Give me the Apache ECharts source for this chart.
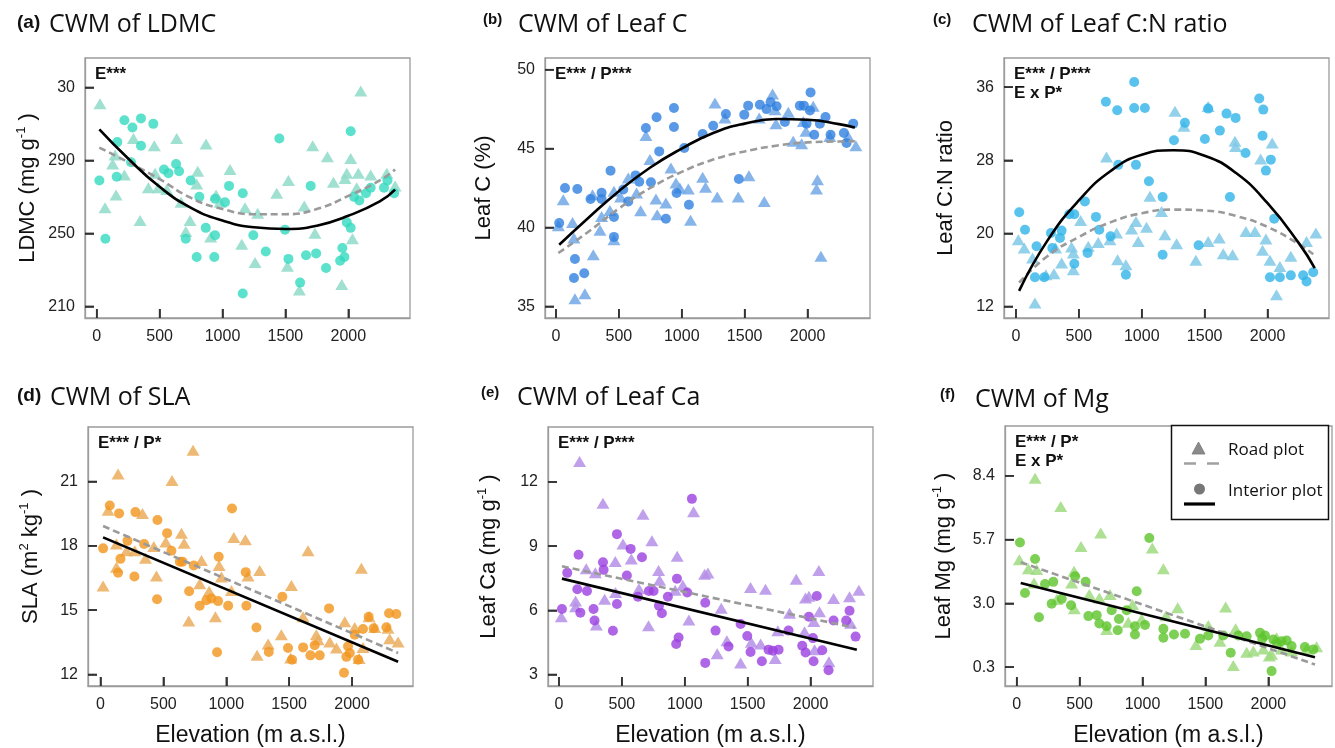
<!DOCTYPE html>
<html><head><meta charset="utf-8">
<script src="https://cdn.jsdelivr.net/npm/echarts@6/dist/echarts.min.js"></script>
<style>html,body{margin:0;padding:0;background:#fff}#c{width:1335px;height:748px}</style>
</head><body><div id="c"></div>
<script>
// ---------- shared ----------
const elevationTicks = [0, 500, 1000, 1500, 2000];

// ---------- (a) LDMC ----------
const ldmcTicks = [210, 250, 290, 330];
const ldmcTickLabels = ['210', '250', '290', '30'];
const ldmcRoad = [[26,321],[66,264],[146,293],[127,288],[154,271],[220,282],[292,302],[345,257],[411,275],[458,298],[464,283],[490,275],[557,274],[636,302],[671,267],[708,251],[742,257],[803,284],[795,277],[869,299],[906,248],[949,271],[980,267],[1060,285],[1153,244],[1179,264],[1259,234],[1280,261],[1431,272],[1524,279],[1516,232],[1611,219],[1650,265],[1717,298],[1735,250],[1834,292],[1882,278],[1948,222],[1974,280],[1988,283],[2019,291],[2033,247],[2080,283],[2067,275],[2099,328],[2178,282],[2306,283],[2372,276]];
const ldmcInterior = [[21,279],[69,247],[159,281],[164,300],[220,312],[284,308],[352,313],[352,298],[273,289],[450,310],[535,285],[570,283],[631,288],[655,284],[747,279],[816,270],[708,247],[795,237],[867,253],[941,269],[941,249],[935,237],[1020,267],[1052,276],[1161,272],[1245,249],[1161,217],[1344,240],[1452,302],[1497,252],[1524,236],[1617,223],[1664,238],[1701,276],[1744,239],[1823,231],[1935,235],[1969,237],[1953,242],[1988,256],[2019,253],[2019,306],[2046,270],[2088,268],[2141,272],[2178,275],[2284,275],[2311,279],[2364,272]];
const ldmcFitRoad = [[21,297],[250,289],[500,279.7],[750,269.4],[1000,263.3],[1250,260.5],[1500,260.5],[1750,263.3],[2000,270.5],[2250,279],[2372,285]];
const ldmcFitInterior = [[21,307],[250,291],[500,275.5],[750,264],[1000,257],[1250,253.3],[1500,252.4],[1750,254.2],[2000,259.6],[2250,267.5],[2372,274]];

// ---------- (b) Leaf C ----------
const leafCTicks = [35, 40, 45, 50];
const leafCTickLabels = ['35', '40', '45', '50'];
const leafCRoad = [[19,40.11],[58,41.76],[132,40.32],[143,39.33],[151,35.48],[230,35.8],[297,38.27],[291,42.08],[350,39.82],[363,40.7],[429,41.08],[461,42.29],[461,39.22],[514,41.93],[575,43.13],[641,42.18],[673,41.06],[715,45.82],[747,44.3],[795,41.8],[805,40.8],[874,41.55],[914,43.77],[954,42.82],[985,42.5],[1052,42.44],[1070,40.45],[1166,43.18],[1189,42.54],[1264,47.89],[1282,41.93],[1343,46.94],[1449,41.93],[1534,43.28],[1616,46.94],[1656,41.65],[1722,48.46],[1741,47.46],[1749,46.58],[1847,47.3],[1886,45.46],[1953,45.31],[1966,46.72],[1987,46.09],[2045,47.68],[2079,43.03],[2071,42.44],[2106,38.17],[2177,45.77],[2323,45.77],[2384,45.18]];
const leafCInterior = [[26,40.28],[72,42.5],[170,42.44],[151,38.0],[143,36.8],[225,37.1],[275,41.8],[363,42.2],[363,41.8],[434,43.6],[461,40.66],[461,39.4],[535,42.4],[575,41.65],[633,43.3],[662,42.9],[715,46.3],[755,42.86],[800,46.98],[821,44.82],[874,40.55],[938,47.57],[938,46.37],[959,42.18],[1020,45.03],[1057,41.44],[1166,45.92],[1250,46.45],[1351,47.19],[1454,43.07],[1497,47.15],[1528,47.72],[1621,47.78],[1674,47.5],[1706,47.93],[1754,47.68],[1820,46.68],[1939,47.72],[1971,47.72],[1992,46.58],[2024,48.56],[2019,47.42],[2053,45.88],[2098,46.58],[2143,47.0],[2183,45.88],[2289,45.99],[2310,45.35],[2363,46.58]];
const leafCFitRoad = [[19,38.38],[250,39.68],[500,41.2],[750,42.5],[1000,43.52],[1250,44.3],[1500,44.82],[1750,45.18],[2000,45.39],[2250,45.45],[2376,45.46]];
const leafCFitInterior = [[26,38.9],[250,40.55],[500,42.3],[750,43.8],[1000,45.0],[1250,45.99],[1500,46.58],[1750,46.87],[2000,46.83],[2250,46.55],[2376,46.34]];

// ---------- (c) Leaf C:N ----------
const cnTicks = [12, 20, 28, 36];
const cnTickLabels = ['12', '20', '28', '36'];
const cnRoad = [[19,19.3],[66,18.4],[132,17.3],[151,12.36],[238,15.47],[302,15.58],[315,18.4],[363,16.75],[442,18.5],[456,16.0],[456,17.84],[514,21.4],[575,18.58],[654,19.0],[720,28.37],[747,19.3],[800,20.04],[808,17.1],[874,16.57],[919,20.48],[954,21.3],[972,19.1],[1038,20.66],[1065,24.05],[1157,22.4],[1184,19.85],[1264,33.37],[1277,18.87],[1335,31.73],[1430,17.04],[1528,33.9],[1528,19.1],[1616,19.49],[1648,17.77],[1722,17.66],[1741,30.08],[1746,29.5],[1828,20.2],[1900,20.2],[1945,28.15],[1960,18.14],[1987,19.38],[2019,17.04],[2037,29.9],[2071,13.28],[2098,16.38],[2185,17.48],[2310,19.1],[2384,20.04]];
const cnInterior = [[26,22.3],[72,20.4],[164,18.58],[151,15.2],[225,15.2],[278,20.04],[289,18.4],[350,19.5],[363,20.3],[424,22.1],[464,22.1],[464,16.68],[548,23.5],[570,17.84],[636,21.8],[662,20.4],[715,34.4],[752,19.67],[805,33.48],[813,27.5],[874,15.47],[940,36.58],[940,33.73],[954,27.5],[1025,33.73],[1057,25.7],[1166,23.98],[1166,17.66],[1256,30.19],[1343,32.1],[1452,18.7],[1502,30.34],[1528,33.66],[1621,31.25],[1674,33.11],[1701,23.98],[1746,32.64],[1825,28.8],[1934,34.76],[1966,33.55],[1960,30.7],[1987,26.87],[2026,28.07],[2053,21.6],[2019,15.2],[2098,15.2],[2185,15.4],[2283,15.4],[2310,14.74],[2363,15.73]];
const cnFitRoad = [[25,14.6],[250,17.5],[500,19.6],[750,21.2],[1000,22.2],[1250,22.6],[1500,22.5],[1750,21.9],[2000,20.7],[2250,18.8],[2363,17.7]];
const cnFitInterior = [[25,13.7],[250,19.2],[500,23.6],[750,26.8],[1000,28.6],[1250,29.1],[1500,28.5],[1750,26.6],[2000,23.3],[2250,18.9],[2375,16.2]];

// ---------- (d) SLA ----------
const slaTicks = [12, 15, 18, 21];
const slaTickLabels = ['12', '15', '18', '21'];
const slaRoad = [[21,16.12],[61,19.66],[140,21.35],[127,18.08],[127,17.0],[207,17.77],[273,17.77],[334,19.51],[358,17.42],[424,17.97],[445,16.59],[519,18.18],[569,21.05],[644,18.59],[665,18.12],[702,14.49],[736,22.46],[803,17.31],[789,16.23],[864,15.88],[914,14.69],[943,17.08],[962,16.54],[1041,15.92],[1060,18.39],[1152,18.28],[1173,16.59],[1266,16.85],[1245,12.89],[1333,13.42],[1438,13.85],[1518,16.15],[1512,12.77],[1611,14.69],[1650,17.77],[1716,13.85],[1730,13.62],[1823,13.51],[1876,13.23],[1942,14.46],[2021,14.19],[2074,16.95],[2056,12.74],[2087,13.26],[2135,14.69],[2180,14.19],[2286,14.15],[2299,13.66],[2366,13.51]];
const slaInterior = [[21,17.88],[74,19.88],[148,19.51],[159,17.39],[140,16.74],[215,18.23],[270,16.57],[278,19.57],[347,18.08],[453,19.2],[450,15.51],[530,18.59],[564,17.77],[631,17.26],[652,17.26],[705,15.88],[742,17.08],[789,15.2],[842,15.46],[882,15.54],[935,15.42],[940,17.49],[927,13.03],[1015,15.2],[1046,19.74],[1155,16.77],[1160,15.2],[1240,14.19],[1338,13.05],[1446,15.62],[1491,13.23],[1523,12.69],[1611,13.26],[1669,12.89],[1703,13.36],[1743,12.89],[1817,15.08],[1936,12.08],[1955,12.82],[1968,13.31],[1982,13.0],[2021,13.85],[2048,12.69],[2087,14.12],[2132,14.69],[2172,14.15],[2273,14.2],[2294,14.85],[2352,14.82]];
const slaFitRoad = [[21,18.92],[2366,13.0]];
const slaFitInterior = [[21,18.39],[2366,12.59]];

// ---------- (e) Leaf Ca ----------
const caTicks = [3, 6, 9, 12];
const caTickLabels = ['3', '6', '9', '12'];
const caRoad = [[19,5.7],[132,6.16],[132,6.43],[164,12.96],[217,7.94],[289,7.75],[297,5.31],[350,11.0],[363,6.52],[448,8.28],[450,6.83],[509,9.1],[575,8.4],[668,10.49],[636,7.01],[712,5.28],[739,9.25],[792,7.86],[800,7.4],[940,8.53],[924,6.94],[985,7.17],[1033,5.55],[1070,10.61],[1158,7.68],[1184,7.74],[1258,3.97],[1290,6.09],[1335,4.57],[1444,3.54],[1523,7.06],[1529,4.51],[1603,4.42],[1642,6.98],[1719,3.74],[1740,5.04],[1833,5.86],[1886,7.45],[1952,5.0],[1960,6.58],[1987,6.66],[2026,5.47],[2032,4.16],[2066,7.86],[2071,5.93],[2146,3.59],[2183,6.55],[2310,6.63],[2318,5.39],[2384,6.94]];
const caInterior = [[24,6.06],[66,7.75],[156,8.6],[146,6.98],[170,5.89],[223,6.9],[275,6.06],[283,5.52],[350,8.25],[355,7.89],[429,5.04],[461,9.56],[461,6.29],[540,7.63],[570,8.87],[628,6.63],[660,8.48],[715,6.9],[752,6.9],[795,6.21],[818,5.86],[866,6.63],[938,7.48],[932,4.42],[951,4.73],[1020,6.83],[1057,11.21],[1163,6.35],[1163,3.54],[1245,5.05],[1348,4.31],[1444,5.36],[1497,4.8],[1523,4.05],[1613,3.62],[1666,4.16],[1700,4.11],[1746,4.16],[1825,5.05],[1934,4.34],[1960,4.03],[1987,5.7],[2019,4.7],[2024,3.62],[2050,6.67],[2093,4.13],[2143,3.2],[2183,5.52],[2283,5.52],[2310,5.98],[2358,4.77]];
const caFitRoad = [[24,8.06],[2350,5.19]];
const caFitInterior = [[24,7.48],[2368,4.16]];

// ---------- (f) Leaf Mg ----------
const mgTicks = [0.3, 3.0, 5.7, 8.4];
const mgTickLabels = ['0.3', '3.0', '5.7', '8.4'];
const mgRoad = [[21,4.85],[93,4.46],[146,8.3],[138,3.86],[159,4.43],[318,3.16],[350,7.1],[456,4.36],[458,2.77],[437,3.86],[511,5.41],[577,3.37],[668,5.98],[657,3.23],[742,3.37],[715,1.89],[887,2.2],[921,2.95],[993,2.34],[1078,5.34],[1166,4.46],[1187,2.48],[1280,2.81],[1425,1.26],[1523,2.06],[1616,1.4],[1661,2.85],[1722,0.37],[1740,1.92],[1828,0.93],[1881,0.98],[1960,1.07],[2008,0.77],[2026,0.84],[2066,1.54],[2106,1.07],[2185,0.98],[2304,1.07],[2384,1.16]];
const mgInterior = [[26,5.58],[66,3.44],[146,4.88],[177,2.41],[225,3.82],[291,3.91],[278,2.98],[358,3.19],[432,2.92],[464,4.15],[548,3.91],[570,2.46],[636,2.5],[657,2.15],[715,2.03],[755,2.71],[803,1.86],[813,2.34],[874,2.71],[940,2.03],[940,1.68],[954,3.51],[1020,2.08],[1054,5.77],[1166,1.92],[1166,1.54],[1250,1.68],[1338,1.71],[1457,1.5],[1523,1.64],[1642,1.64],[1701,0.91],[1762,1.64],[1828,1.61],[1934,1.75],[1952,1.5],[1974,1.64],[2026,0.13],[2040,1.47],[2071,1.3],[2106,1.4],[2146,1.43],[2185,1.19],[2291,1.15],[2358,1.05]];
const mgFitRoad = [[32,4.74],[2371,0.41]];
const mgFitInterior = [[32,3.86],[2371,0.72]];

// ---------- panel configuration (layout / style) ----------
const PX_PER_M = 62.9 / 500;
const panels = [
  {lab:'(a)', big:true, title:'CWM of LDMC', labX:17, titX:49, titY:12,
   grid:{left:85, top:58, width:325, height:260}, xMin:-93, yMin:203.6, yMax:346.1,
   ticks:ldmcTicks, labels:ldmcTickLabels, road:ldmcRoad, inter:ldmcInterior, fitR:ldmcFitRoad, fitI:ldmcFitInterior,
   cI:'#33dabf', cR:'#8fdbc9', yName:'{n|LDMC (mg g}{s|-1}{n| )}', gap:44, note:'E***', xName:false},
  {lab:'(b)', big:false, title:'CWM of Leaf C', labX:483, titX:518, titY:12,
   grid:{left:545, top:58, width:325, height:260}, xMin:-87, yMin:34.26, yMax:50.74,
   ticks:leafCTicks, labels:leafCTickLabels, road:leafCRoad, inter:leafCInterior, fitR:leafCFitRoad, fitI:leafCFitInterior,
   cI:'#2f7fe0', cR:'#72a8e6', yName:'{n|Leaf C (%)}', gap:48, note:'E*** / P***', xName:false},
  {lab:'(c)', big:false, title:'CWM of Leaf C:N ratio', labX:933, titX:972, titY:12,
   grid:{left:1004, top:58, width:325, height:260}, xMin:-95, yMin:10.73, yMax:39.2,
   ticks:cnTicks, labels:cnTickLabels, road:cnRoad, inter:cnInterior, fitR:cnFitRoad, fitI:cnFitInterior,
   cI:'#30b4e8', cR:'#80c9e7', yName:'{n|Leaf C:N ratio}', gap:45, note:'E*** / P***\nE x P*', xName:false},
  {lab:'(d)', big:true, title:'CWM of SLA', labX:17, titX:50, titY:385,
   grid:{left:88, top:427, width:325, height:261}, xMin:-99, yMin:11.46, yMax:23.54,
   ticks:slaTicks, labels:slaTickLabels, road:slaRoad, inter:slaInterior, fitR:slaFitRoad, fitI:slaFitInterior,
   cI:'#f2951b', cR:'#eaad5c', yName:'{n|SLA (m}{s|2}{n| kg}{s|-1}{n| )}', gap:44, note:'E*** / P*', xName:true},
  {lab:'(e)', big:false, title:'CWM of Leaf Ca', labX:481, titX:517, titY:385,
   grid:{left:548, top:427, width:325, height:261}, xMin:-87, yMin:2.46, yMax:14.57,
   ticks:caTicks, labels:caTickLabels, road:caRoad, inter:caInterior, fitR:caFitRoad, fitI:caFitInterior,
   cI:'#9b40e0', cR:'#b58fe6', yName:'{n|Leaf Ca (mg g}{s|-1}{n| )}', gap:46, note:'E*** / P***', xName:true},
  {lab:'(f)', big:false, title:'CWM of Mg', labX:940, titX:975, titY:387,
   grid:{left:1005, top:426, width:327, height:261}, xMin:-93, yMin:-0.50, yMax:10.51,
   ticks:mgTicks, labels:mgTickLabels, road:mgRoad, inter:mgInterior, fitR:mgFitRoad, fitI:mgFitInterior,
   cI:'#5cc42b', cR:'#9fdb80', yName:'{n|Leaf Mg (mg g}{s|-1}{n| )}', gap:48, note:'E*** / P*\nE x P*', xName:true}
];

const FONT = '"Liberation Sans", Arial, sans-serif';
const BOX = '#9c9c9c';
const TICKC = '#2a2a2a';
const TICKLEN = 9;
const TICKW = 1.6;
const grids = [], xAxes = [], yAxes = [], series = [], graphics = [];

panels.forEach((p, i) => {
  grids.push(Object.assign({show:true, borderColor:BOX, borderWidth:1.3}, p.grid));
  const xMax = p.xMin + p.grid.width / PX_PER_M;
  xAxes.push({
    type:'value', gridIndex:i, min:p.xMin, max:xMax,
    axisLine:{show:true, onZero:false, lineStyle:{color:BOX, width:1.3}}, splitLine:{show:false},
    axisTick:{show:true, inside:true, length:TICKLEN, customValues:elevationTicks, lineStyle:{color:TICKC, width:TICKW}},
    axisLabel:{customValues:elevationTicks, fontSize:16, color:'#222', fontFamily:FONT, margin:11,
      formatter:(v) => String(Math.round(v))},
    name: p.xName ? 'Elevation (m a.s.l.)' : '', nameLocation:'middle', nameGap:38,
    nameTextStyle:{fontSize:23, color:'#111', fontFamily:FONT}
  });
  const labs = p.labels, tks = p.ticks;
  yAxes.push({
    type:'value', gridIndex:i, min:p.yMin, max:p.yMax,
    axisLine:{show:true, onZero:false, lineStyle:{color:BOX, width:1.3}}, splitLine:{show:false},
    axisTick:{show:true, inside:true, length:TICKLEN, customValues:tks, lineStyle:{color:TICKC, width:TICKW}},
    axisLabel:{customValues:tks, fontSize:16, color:'#222', fontFamily:FONT, margin:10,
      formatter:(v) => { const k = tks.findIndex(t => Math.abs(t - v) < 1e-6); return k >= 0 ? labs[k] : ''; }},
    name:p.yName, nameLocation:'middle', nameGap:p.gap, nameRotate:90,
    nameTextStyle:{fontSize:22, color:'#111', fontFamily:FONT,
      rich:{n:{fontSize:22, lineHeight:26, fontFamily:FONT, color:'#111'},
            s:{fontSize:13, lineHeight:13, verticalAlign:'top', fontFamily:FONT, color:'#111'}}}
  });
  series.push(
    {type:'scatter', xAxisIndex:i, yAxisIndex:i, data:p.road, symbol:'triangle', symbolSize:[13,11],
     itemStyle:{color:p.cR, opacity:0.85}, silent:true},
    {type:'scatter', xAxisIndex:i, yAxisIndex:i, data:p.inter, symbol:'circle', symbolSize:10,
     itemStyle:{color:p.cI}, silent:true},
    {type:'line', xAxisIndex:i, yAxisIndex:i, data:p.fitR, smooth:true, showSymbol:false, symbol:'none',
     lineStyle:{color:'#9a9a9a', width:2.6, type:[7,4]}, silent:true},
    {type:'line', xAxisIndex:i, yAxisIndex:i, data:p.fitI, smooth:true, showSymbol:false, symbol:'none',
     lineStyle:{color:'#000', width:2.6}, silent:true},
    // inward tick marks placed through the axes' scales (x ticks on the bottom edge, y ticks on the left edge)
    {type:'scatter', xAxisIndex:i, yAxisIndex:i, clip:false, silent:true, z:6,
     data:elevationTicks.map(v => [v, p.yMin]), symbol:'rect', symbolSize:[TICKW, TICKLEN], symbolOffset:[0, -TICKLEN / 2],
     itemStyle:{color:TICKC}},
    {type:'scatter', xAxisIndex:i, yAxisIndex:i, clip:false, silent:true, z:6,
     data:tks.map(v => [p.xMin, v]), symbol:'rect', symbolSize:[TICKLEN, TICKW], symbolOffset:[TICKLEN / 2, 0],
     itemStyle:{color:TICKC}}
  );
  // panel letter + title
  graphics.push({type:'text', left:p.labX, top: p.big ? p.titY + 1 : p.titY,
    style:{text:p.lab, font:`bold ${p.big ? 19 : 15}px ${FONT}`, fill:'#111'}});
  graphics.push({type:'text', left:p.titX, top:p.titY,
    style:{text:p.title, font:`25px "Open Sans", sans-serif`, fill:'#111'}});
  // significance note
  graphics.push({type:'text', left:p.grid.left + 10, top:p.grid.top + 7,
    style:{text:p.note, font:`bold 17px ${FONT}`, lineHeight:19, fill:'#111'}});
});

// legend box (panel f)
graphics.push(
  {type:'rect', shape:{x:1171.5, y:425.5, width:157, height:94}, style:{fill:'#fff', stroke:'#111', lineWidth:1.5}, z:10},
  {type:'polygon', shape:{points:[[1198.5,442],[1192,454],[1205,454]]}, style:{fill:'#8a8a8a', stroke:'#777', lineWidth:0.8}, z:11},
  {type:'line', shape:{x1:1184, y1:463.5, x2:1219, y2:463.5}, style:{stroke:'#a0a0a0', lineWidth:2.6, lineDash:[12,11]}, z:11},
  {type:'text', left:1228, top:442, style:{text:'Road plot', font:'17px "Open Sans", sans-serif', fill:'#111'}, z:11},
  {type:'circle', shape:{cx:1199.5, cy:489, r:5.5}, style:{fill:'#777'}, z:11},
  {type:'line', shape:{x1:1184, y1:504, x2:1215, y2:504}, style:{stroke:'#000', lineWidth:3.2}, z:11},
  {type:'text', left:1228, top:483, style:{text:'Interior plot', font:'17px "Open Sans", sans-serif', fill:'#111'}, z:11}
);

const chart = echarts.init(document.getElementById('c'));
chart.setOption({animation:false, backgroundColor:'#fff', grid:grids, xAxis:xAxes, yAxis:yAxes, series:series, graphic:graphics});
</script></body></html>
